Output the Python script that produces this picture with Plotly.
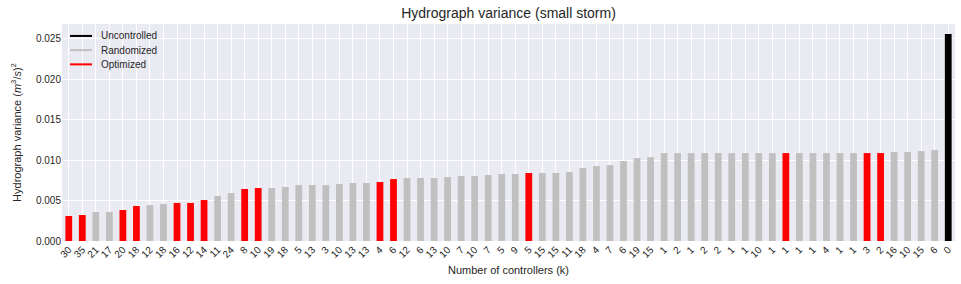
import plotly.graph_objects as go

labels = ["30","35","21","17","20","18","12","18","16","12","14","11","24","8","10","19","18","5","13","3",
          "10","13","13","4","6","12","6","13","10","7","10","7","5","9","5","15","15","11","18","4",
          "7","6","19","15","1","2","1","2","2","1","1","10","1","1","1","1","4","1","1","3",
          "2","16","10","15","6","0"]

variance = [0.00309,0.00321,0.00358,0.00358,0.00383,0.00432,0.00444,0.00457,0.0047,0.0047,
            0.00506,0.00556,0.00593,0.00642,0.00654,0.00654,0.00667,0.00691,0.00691,0.00691,
            0.00704,0.00716,0.00716,0.00728,0.00765,0.00778,0.00778,0.00778,0.0079,0.00802,
            0.00802,0.00815,0.00827,0.00827,0.0084,0.0084,0.0084,0.00852,0.009,0.00926,
            0.00938,0.00988,0.01025,0.01037,0.01086,0.01086,0.01086,0.01086,0.01086,0.01086,
            0.01086,0.01086,0.01086,0.01086,0.01086,0.01086,0.01086,0.01086,0.01086,0.01086,
            0.01086,0.011,0.011,0.0111,0.01123,0.02556]

O, R, U = "Optimized", "Randomized", "Uncontrolled"
group = [O,O,R,R,O,O,R,R,O,O,
         O,R,R,O,O,R,R,R,R,R,
         R,R,R,O,O,R,R,R,R,R,
         R,R,R,R,O,R,R,R,R,R,
         R,R,R,R,R,R,R,R,R,R,
         R,R,R,O,R,R,R,R,R,O,
         O,R,R,R,R,U]

colors = {U: "#000000", R: "#C0C0C0", O: "#FF0000"}
legend_order = [U, R, O]

pos = list(range(len(labels)))

fig = go.Figure()
fig.add_trace(go.Bar(
    x=pos, y=variance, width=0.5,
    marker=dict(color=[colors[g] for g in group], line=dict(width=0)),
    showlegend=False, hoverinfo="y"))

# Legend drawn as line samples + labels (matplotlib-style compact legend)
leg_x0, leg_x1, leg_tx = 0.009, 0.0336, 0.041
leg_y0, leg_dy = 0.945, 0.0655
for i, g in enumerate(legend_order):
    yy = leg_y0 - i * leg_dy
    fig.add_shape(type="line", xref="paper", yref="paper",
                  x0=leg_x0, x1=leg_x1, y0=yy, y1=yy,
                  line=dict(color=colors[g], width=2))
    fig.add_annotation(xref="paper", yref="paper", x=leg_tx, y=yy, text=g,
                       showarrow=False, xanchor="left", yanchor="middle",
                       font=dict(size=10, color="#262626"))

font_fam = "Liberation Sans, Arial, DejaVu Sans, sans-serif"
fig.update_layout(
    width=961, height=284,
    margin=dict(l=62, r=6, t=24, b=43, autoexpand=False),
    paper_bgcolor="white", plot_bgcolor="#EAEAF2",
    font=dict(family=font_fam, size=10, color="#262626"),
    title=dict(text="Hydrograph variance (small storm)", x=0.5, xanchor="center",
               xref="paper", y=1 - 13 / 284, yref="container", yanchor="middle",
               automargin=False, font=dict(size=14, color="#262626")),
    showlegend=False,
    bargap=0.5,
)
fig.update_xaxes(
    range=[-0.5, len(labels) - 0.5], automargin=False,
    tickmode="array", tickvals=pos, ticktext=labels, tickangle=-45,
    showgrid=True, gridcolor="white", gridwidth=1, zeroline=False,
    showline=False, ticks="", tickfont=dict(size=10),
    title=dict(text="Number of controllers (k)", font=dict(size=11), standoff=7),
)
fig.update_yaxes(
    range=[0, 0.0268], automargin=False,
    tickvals=[0, 0.005, 0.01, 0.015, 0.02, 0.025], tickformat=".3f",
    showgrid=True, gridcolor="white", gridwidth=1, zeroline=False,
    showline=False, ticks="", tickfont=dict(size=10),
    title=dict(text="Hydrograph variance (<i>m</i><sup>3</sup>/<i>s</i>)<sup>2</sup>",
               font=dict(size=11), standoff=12),
)

fig.write_html("out.html", config={"displayModeBar": False},
               post_script="document.body.style.margin='0';document.body.style.overflow='hidden';")
